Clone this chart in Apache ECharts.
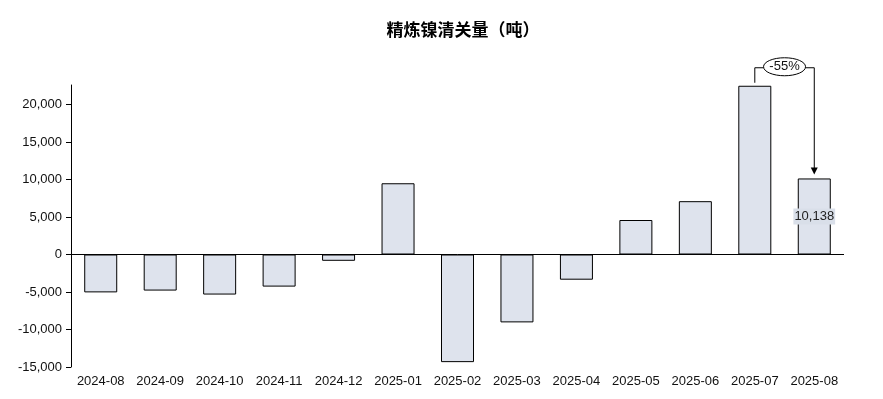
<!DOCTYPE html>
<html>
<head>
<meta charset="utf-8">
<script src="https://cdn.jsdelivr.net/npm/echarts@6/dist/echarts.min.js"></script>
<style>html,body{margin:0;padding:0;background:#fff}#c{width:883px;height:399px}</style>
</head>
<body>
<div id="c"></div>
<script>
const categories = ['2024-08','2024-09','2024-10','2024-11','2024-12','2025-01','2025-02','2025-03','2025-04','2025-05','2025-06','2025-07','2025-08'];
const values = [-5050, -4810, -5340, -4280, -840, 9500, -14350, -9050, -3360, 4600, 7110, 22500, 10138];
const yTicks = [-15000, -10000, -5000, 0, 5000, 10000, 15000, 20000];
const titleText = '精炼镍清关量（吨）';
const compareFrom = 11, compareTo = 12;

const font = 'Liberation Sans';
const fmt = v => v.toLocaleString('en-US');
const pct = Math.round((values[compareTo] / values[compareFrom] - 1) * 100) + '%';

const barData = values.map((v, i) => i === values.length - 1 ? {
  value: v,
  label: {
    show: true, position: 'inside', formatter: p => fmt(p.value),
    color: '#222', fontFamily: font, fontSize: 13,
    backgroundColor: '#d9dfe9', padding: [2, 1, 1, 1]
  }
} : v);

const chart = echarts.init(document.getElementById('c'), null, {renderer: 'canvas'});
chart.setOption({
  animation: false,
  title: {
    text: titleText, left: 458, top: 16, textAlign: 'center',
    textStyle: {fontFamily: 'Noto Sans CJK SC', fontSize: 17, fontWeight: 'bold', color: '#000'}
  },
  grid: {left: 71, right: 39, top: 85, bottom: 32, containLabel: false},
  xAxis: {
    type: 'category', data: categories,
    axisLine: {show: false, onZero: false}, axisTick: {show: false},
    axisLabel: {color: '#111', fontFamily: font, fontSize: 13, margin: 8, interval: 0}
  },
  yAxis: {
    type: 'value', min: -15000, max: 22600, interval: 5000,
    axisLine: {show: true, lineStyle: {color: '#000', width: 1}},
    axisTick: {show: true, length: 5, lineStyle: {color: '#000'}, customValues: yTicks},
    axisLabel: {color: '#111', fontFamily: font, fontSize: 13, margin: 9, formatter: v => fmt(v), customValues: yTicks},
    splitLine: {show: false}
  },
  series: [{
    type: 'bar', data: barData, barWidth: 33,
    itemStyle: {color: '#dee3ed', borderColor: '#000', borderWidth: 1},
    markLine: {
      silent: true, symbol: 'none', label: {show: false},
      lineStyle: {color: '#000', width: 1, type: 'solid'},
      data: [{yAxis: 0}]
    }
  }, {
    type: 'custom', coordinateSystem: 'cartesian2d', clip: false, z: 5,
    data: [[compareFrom, compareTo, values[compareFrom], values[compareTo]]],
    encode: {x: [0, 1], y: [2, 3]},
    renderItem: function (params, api) {
      const p1 = api.coord([api.value(0), api.value(2)]);
      const p2 = api.coord([api.value(1), api.value(3)]);
      const topY = Math.min(p1[1], p2[1]) - 18;
      const cx = (p1[0] + p2[0]) / 2;
      const rx = 21, ry = 9;
      const ls = {stroke: '#000', lineWidth: 1, fill: null};
      return {
        type: 'group',
        children: [
          {type: 'polyline', shape: {points: [[p1[0], p1[1] - 3], [p1[0], topY], [cx - rx, topY]]}, style: ls},
          {type: 'polyline', shape: {points: [[cx + rx, topY], [p2[0], topY], [p2[0], p2[1] - 10]]}, style: ls},
          {type: 'polygon', shape: {points: [[p2[0] - 3.5, p2[1] - 11], [p2[0] + 3.5, p2[1] - 11], [p2[0], p2[1] - 4]]}, style: {fill: '#000'}},
          {type: 'ellipse', shape: {cx: cx, cy: topY - 1, rx: rx, ry: ry}, style: {fill: '#fff', stroke: '#000', lineWidth: 1}},
          {type: 'text', x: cx, y: topY - 1, style: {text: pct, fill: '#111', font: '13px ' + font, align: 'center', verticalAlign: 'middle'}}
        ]
      };
    }
  }]
});
</script>
</body>
</html>
